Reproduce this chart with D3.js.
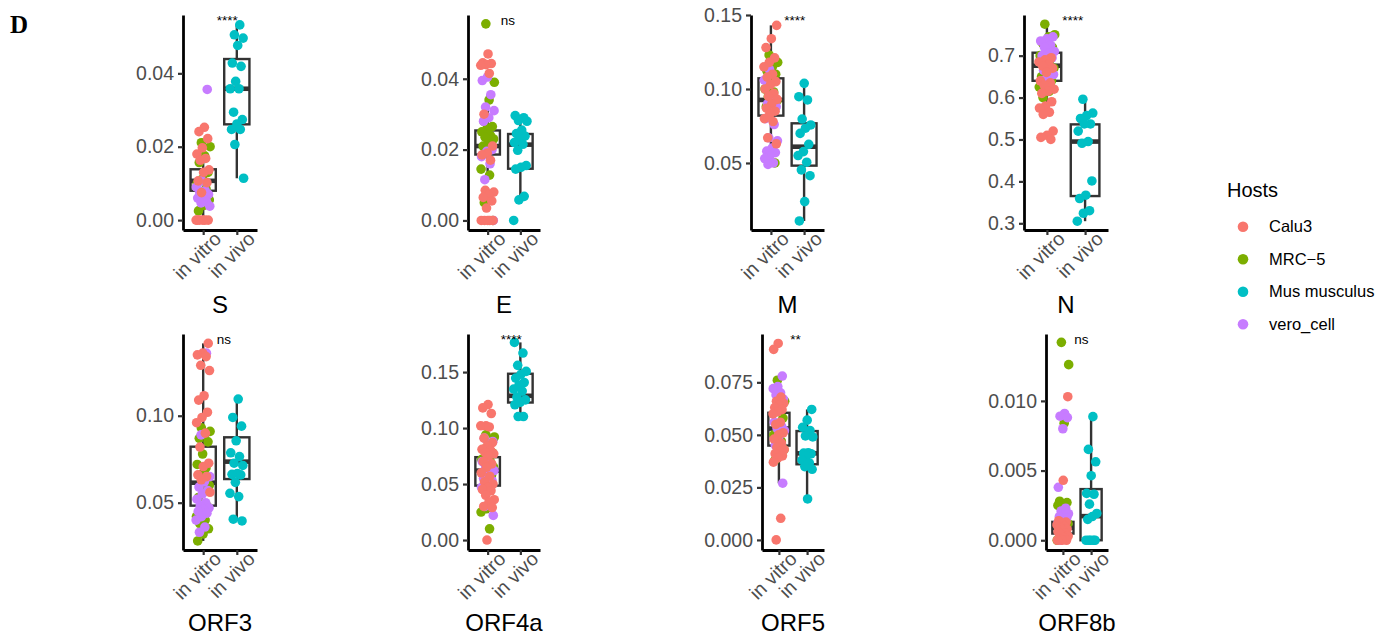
<!DOCTYPE html>
<html>
<head>
<meta charset="utf-8">
<script src="https://cdn.jsdelivr.net/npm/d3@7"></script>
<style>
  body { margin: 0; background: #fff; }
  text { font-family: "Liberation Sans", Arial, sans-serif; }
</style>
</head>
<body>
<div class="chart"></div>
<script>
// categories
var hosts = ["Calu3", "MRC-5", "Mus musculus", "vero_cell"];
var hostColors = ["#F8766D", "#7CAE00", "#00BFC4", "#C77CFF"];
var genes = ["S", "E", "M", "N", "ORF3", "ORF4a", "ORF5", "ORF8b"];
var groups = ["in vitro", "in vivo"];
var signif = ["****", "ns", "****", "****", "ns", "****", "**", "ns"];

// y axis limits and tick labels per gene
var yDomains = [[-0.0027, 0.0559], [-0.0027, 0.058], [0.0047, 0.150], [0.284, 0.797],
                [0.0228, 0.147], [-0.0089, 0.184], [-0.0048, 0.098], [-0.0007, 0.0148]];
var yTicks = [[0, 0.02, 0.04], [0, 0.02, 0.04], [0.05, 0.10, 0.15], [0.3, 0.4, 0.5, 0.6, 0.7],
              [0.05, 0.10], [0, 0.05, 0.10, 0.15], [0, 0.025, 0.05, 0.075], [0, 0.005, 0.010]];
var tickFormats = [".2f", ".2f", ".2f", ".1f", ".2f", ".2f", ".3f", ".3f"];

// in vitro values, one list per gene
var calu3 = [
  [0.0253, 0.0241, 0.0222, 0.0197, 0.018, 0.0168, 0.0163, 0.0137, 0.013, 0.0107, 0.0102, 0.0075, 0, 0, 0, 0, 0, 0],
  [0.047, 0.0445, 0.0443, 0.044, 0.0438, 0.0415, 0.030, 0.021, 0.019, 0.0185, 0.017, 0.0085, 0.008, 0.007, 0.0065, 0.0055, 0.0035, 0, 0, 0, 0, 0],
  [0.143, 0.134, 0.128, 0.121, 0.118, 0.115, 0.110, 0.108, 0.105, 0.103, 0.100, 0.097, 0.095, 0.093, 0.090, 0.087, 0.085, 0.083, 0.080, 0.078, 0.067, 0.063],
  [0.695, 0.69, 0.685, 0.68, 0.675, 0.67, 0.66, 0.64, 0.635, 0.63, 0.62, 0.615, 0.61, 0.59, 0.58, 0.575, 0.565, 0.56, 0.52, 0.51, 0.505, 0.50],
  [0.1416, 0.136, 0.135, 0.134, 0.129, 0.126, 0.1115, 0.109, 0.102, 0.099, 0.096, 0.090, 0.082, 0.0727, 0.0708, 0.066, 0.065, 0.0632, 0.056],
  [0.121, 0.118, 0.113, 0.102, 0.102, 0.101, 0.091, 0.087, 0.084, 0.081, 0.080, 0.078, 0.077, 0.075, 0.070, 0.068, 0.065, 0.060, 0.057, 0.052, 0.050, 0.047, 0.045, 0.044, 0.040, 0.036, 0.034, 0.030, 0.029, 0.000],
  [0.0935, 0.0907, 0.068, 0.066, 0.065, 0.064, 0.063, 0.062, 0.061, 0.060, 0.056, 0.055, 0.051, 0.050, 0.048, 0.046, 0.044, 0.043, 0.042, 0.041, 0.040, 0.039, 0.037, 0.0103, 0.000],
  [0.0103, 0.0043, 0.0014, 0.0013, 0.0012, 0.0011, 0.0010, 0.0009, 0.0008, 0.0007, 0.0006, 0.0005, 0.0004, 0.0003, 0.0002, 0.0001, 0, 0, 0]
];
var mrc5 = [
  [0.0211, 0.020, 0.0175, 0.0157, 0.013, 0.0112, 0.010, 0.0086, 0.007, 0.0055, 0.004, 0.0025],
  [0.0555, 0.039, 0.034, 0.028, 0.0265, 0.026, 0.025, 0.024, 0.0235, 0.023, 0.022, 0.021, 0.0205, 0.020, 0.0145, 0.0128, 0.005, 0],
  [0.123, 0.118, 0.115, 0.112, 0.110, 0.105, 0.100, 0.098, 0.095, 0.092, 0.090, 0.088, 0.050],
  [0.775, 0.75, 0.745, 0.73, 0.72, 0.71, 0.70, 0.69, 0.68, 0.67, 0.66, 0.65, 0.64, 0.63, 0.625, 0.615, 0.60],
  [0.093, 0.091, 0.089, 0.087, 0.085, 0.078, 0.072, 0.070, 0.066, 0.060, 0.058, 0.053, 0.048, 0.045, 0.042, 0.040, 0.038, 0.035, 0.032, 0.028],
  [0.094, 0.092, 0.086, 0.081, 0.078, 0.075, 0.072, 0.070, 0.068, 0.065, 0.062, 0.060, 0.058, 0.028, 0.025, 0.010],
  [0.076, 0.066, 0.062, 0.061, 0.058, 0.055, 0.050, 0.047, 0.045, 0.043, 0.040, 0.038],
  [0.0142, 0.0126, 0.0084, 0.0028, 0.0027, 0.0026, 0.0025, 0.0022, 0.0015, 0.0012, 0.001, 0.0008, 0.0005, 0.0002, 0]
];
var vero = [
  [0.0356, 0.0107, 0.009, 0.008, 0.0075, 0.007, 0.006, 0.006, 0.005, 0.0047, 0.0038],
  [0.0405, 0.0395, 0.0355, 0.032, 0.031, 0.029, 0.028, 0.020, 0.0195, 0.018, 0.016, 0.0115, 0],
  [0.113, 0.106, 0.096, 0.090, 0.088, 0.085, 0.080, 0.076, 0.067, 0.065, 0.060, 0.058, 0.057, 0.055, 0.053, 0.050, 0.049],
  [0.745, 0.74, 0.735, 0.725, 0.72, 0.71, 0.705, 0.70, 0.695, 0.69, 0.685, 0.67, 0.665, 0.655, 0.65, 0.64],
  [0.136, 0.089, 0.065, 0.062, 0.059, 0.057, 0.055, 0.052, 0.050, 0.048, 0.047, 0.046, 0.045, 0.044, 0.042, 0.040, 0.036, 0.033],
  [0.091, 0.088, 0.072, 0.070, 0.066, 0.064, 0.062, 0.058, 0.055, 0.053, 0.050, 0.047, 0.045, 0.030, 0.022],
  [0.078, 0.073, 0.072, 0.070, 0.069, 0.067, 0.065, 0.056, 0.054, 0.053, 0.052, 0.050, 0.045, 0.027],
  [0.0091, 0.0089, 0.0088, 0.0080, 0.0038, 0.0023, 0.0021, 0.0019, 0.0018, 0.0017, 0.0016, 0.0014, 0.0012, 0.0002, 0]
];
// in vivo values (Mus musculus)
var musMusculus = [
  [0.0532, 0.0505, 0.0496, 0.0476, 0.0428, 0.0419, 0.0378, 0.0358, 0.0358, 0.0294, 0.0274, 0.0262, 0.0247, 0.0247, 0.0206, 0.0114],
  [0.0296, 0.029, 0.0282, 0.028, 0.0255, 0.0245, 0.0238, 0.023, 0.022, 0.0215, 0.0198, 0.0155, 0.015, 0.0145, 0.0068, 0.0058, 0],
  [0.1038, 0.0948, 0.0926, 0.0797, 0.0757, 0.0735, 0.070, 0.0626, 0.0577, 0.055, 0.0505, 0.0453, 0.0414, 0.0239, 0.0108],
  [0.596, 0.563, 0.557, 0.55, 0.537, 0.537, 0.52, 0.495, 0.491, 0.401, 0.367, 0.359, 0.33, 0.324, 0.305],
  [0.1096, 0.099, 0.094, 0.0856, 0.0787, 0.0765, 0.0727, 0.0714, 0.0668, 0.0663, 0.066, 0.0617, 0.0554, 0.0535, 0.0405, 0.0395],
  [0.1765, 0.167, 0.156, 0.1506, 0.148, 0.1446, 0.1407, 0.138, 0.1348, 0.133, 0.1276, 0.1252, 0.123, 0.1208, 0.1103, 0.1103],
  [0.0621, 0.057, 0.0536, 0.0521, 0.0495, 0.049, 0.0415, 0.0413, 0.041, 0.040, 0.038, 0.0366, 0.0349, 0.0336, 0.0195],
  [0.00887, 0.00652, 0.00563, 0.00463, 0.00336, 0.0033, 0.00259, 0.00192, 0.0017, 0.0015, 0, 0, 0, 0, 0]
];

// box summaries [lower whisker, q1, median, q3, upper whisker]
var boxInVitro = [
  [0, 0.0080, 0.0107, 0.01385, 0.0222],
  [0.0115, 0.0186, 0.021, 0.0254, 0.0355],
  [0.049, 0.082, 0.0926, 0.1072, 0.143],
  [0.558, 0.640, 0.676, 0.707, 0.775],
  [0.028, 0.0483, 0.0615, 0.0822, 0.1416],
  [0.024, 0.0486, 0.062, 0.074, 0.102],
  [0.027, 0.0449, 0.053, 0.0605, 0.076],
  [0, 0.00048, 0.0009, 0.00132, 0.0025]
];
var boxInVivo = [
  [0.0114, 0.0261, 0.0358, 0.0439, 0.0532],
  [0.0058, 0.0146, 0.0214, 0.0244, 0.0296],
  [0.0108, 0.0482, 0.061, 0.0768, 0.1038],
  [0.305, 0.365, 0.495, 0.536, 0.596],
  [0.0395, 0.0636, 0.0736, 0.0876, 0.1096],
  [0.1103, 0.1228, 0.1288, 0.1485, 0.1765],
  [0.0195, 0.036, 0.0412, 0.0518, 0.0621],
  [0, 0, 0.00173, 0.00367, 0.00887]
];

var svgWidth = 1389;
var svgHeight = 636;

var svg = d3.select(".chart")
  .append("svg")
  .attr("width", svgWidth)
  .attr("height", svgHeight);

// panel rectangles (the y axis label widths differ, so each panel is placed on its own)
var panelRects = [
  { left: 183, right: 257, top: 15, bottom: 230 },
  { left: 468, right: 540, top: 15, bottom: 230 },
  { left: 751, right: 824, top: 15, bottom: 230 },
  { left: 1024, right: 1108, top: 15, bottom: 230 },
  { left: 183, right: 257, top: 334, bottom: 550 },
  { left: 468, right: 540, top: 334, bottom: 550 },
  { left: 762, right: 824, top: 334, bottom: 550 },
  { left: 1046, right: 1108, top: 334, bottom: 550 }
];

var colorScale = d3.scaleOrdinal().domain(hosts).range(hostColors);

// panel letter
svg.append("text")
  .attr("x", 10)
  .attr("y", 33)
  .style("font-family", "'Liberation Serif', 'Times New Roman', serif")
  .style("font-weight", "bold")
  .style("font-size", "25px")
  .text("D");

genes.forEach(function(gene, i) {
  var p = panelRects[i];
  var chart = svg.append("g").attr("class", "panel");

  var xScale = d3.scalePoint().domain(groups).range([p.left, p.right]).padding(0.6);
  var step = xScale.step();
  var yScale = d3.scaleLinear().domain(yDomains[i]).range([p.bottom, p.top]);

  // boxes first, points are drawn over them
  var boxes = [boxInVitro[i], boxInVivo[i]];
  groups.forEach(function(grp, j) {
    var b = boxes[j];
    var cx = xScale(grp);
    var w = 0.75 * step;
    var bg = chart.append("g").attr("stroke", "#333333").attr("stroke-width", 2.4);
    bg.append("line").attr("x1", cx).attr("x2", cx).attr("y1", yScale(b[3])).attr("y2", yScale(b[4]));
    bg.append("line").attr("x1", cx).attr("x2", cx).attr("y1", yScale(b[1])).attr("y2", yScale(b[0]));
    bg.append("rect")
      .attr("x", cx - w / 2)
      .attr("y", yScale(b[3]))
      .attr("width", w)
      .attr("height", Math.max(0, yScale(b[1]) - yScale(b[3])))
      .attr("fill", "white");
    bg.append("line")
      .attr("x1", cx - w / 2).attr("x2", cx + w / 2)
      .attr("y1", yScale(b[2])).attr("y2", yScale(b[2]))
      .attr("stroke-width", 4.6);
  });

  // points: in vitro (MRC-5, vero_cell, Calu3 on top), then in vivo
  var vitroPts = [];
  mrc5[i].forEach(function(v) { vitroPts.push({ host: "MRC-5", value: v, group: "in vitro" }); });
  vero[i].forEach(function(v) { vitroPts.push({ host: "vero_cell", value: v, group: "in vitro" }); });
  calu3[i].forEach(function(v) { vitroPts.push({ host: "Calu3", value: v, group: "in vitro" }); });
  var vivoPts = musMusculus[i].map(function(v) { return { host: "Mus musculus", value: v, group: "in vivo" }; });

  // deterministic jitter spread (golden ratio sequence), +/- 0.21 of a category step
  function jitter(k) {
    return ((k * 0.6180339887 + 0.37) % 1 - 0.5) * 0.42 * step;
  }

  chart.append("g")
    .selectAll("circle")
    .data(vitroPts.concat(vivoPts))
    .enter()
    .append("circle")
    .attr("cx", function(d, k) {
      return xScale(d.group) + jitter(k);
    })
    .attr("cy", function(d) { return yScale(d.value); })
    .attr("r", 4.8)
    .attr("fill", function(d) { return colorScale(d.host); });

  // y axis
  var leftAxis = d3.axisLeft(yScale)
    .tickValues(yTicks[i])
    .tickFormat(d3.format(tickFormats[i]))
    .tickSize(5)
    .tickSizeOuter(0)
    .tickPadding(4);
  var ya = chart.append("g")
    .attr("class", "y-axis")
    .attr("transform", "translate(" + p.left + ",0)")
    .call(leftAxis);

  // x axis
  var bottomAxis = d3.axisBottom(xScale).tickSize(5).tickSizeOuter(0);
  var xa = chart.append("g")
    .attr("class", "x-axis")
    .attr("transform", "translate(0," + p.bottom + ")")
    .call(bottomAxis);

  [ya, xa].forEach(function(ax) {
    ax.select(".domain").attr("stroke", "black").attr("stroke-width", 2.8);
    ax.selectAll(".tick line").attr("stroke", "#333333").attr("stroke-width", 2.2);
    ax.selectAll(".tick text")
      .attr("fill", "#4D4D4D")
      .style("font-size", "19.5px")
      .style("font-family", "'Liberation Sans', Arial, sans-serif");
  });

  xa.selectAll(".tick text")
    .attr("x", 0)
    .attr("y", 0)
    .attr("dx", 11)
    .attr("dy", 15.5)
    .attr("transform", "translate(0,7) rotate(-45)")
    .style("text-anchor", "end");

  // significance label
  chart.append("text")
    .attr("x", xScale("in vitro") + 0.4 * step)
    .attr("y", p.top + 10)
    .style("font-size", "13.5px")
    .attr("fill", "black")
    .text(signif[i]);

  // gene label under the panel
  chart.append("text")
    .attr("x", (p.left + p.right) / 2)
    .attr("y", i < 4 ? 313 : 631)
    .attr("text-anchor", "middle")
    .style("font-size", "24px")
    .attr("fill", "black")
    .text(gene);
});

// legend
var legend = svg.append("g").attr("class", "legend");
legend.append("text")
  .attr("x", 1227)
  .attr("y", 197)
  .style("font-size", "20px")
  .text("Hosts");

legend.selectAll("circle")
  .data(hosts)
  .enter()
  .append("circle")
  .attr("cx", 1243)
  .attr("cy", function(d, i) { return 226.7 + i * 32.5; })
  .attr("r", 5.3)
  .attr("fill", function(d) { return colorScale(d); });

legend.selectAll(".legend-label")
  .data(hosts)
  .enter()
  .append("text")
  .attr("class", "legend-label")
  .attr("x", 1269)
  .attr("y", function(d, i) { return 226.7 + i * 32.5; })
  .attr("dy", "0.35em")
  .style("font-size", "16.5px")
  .text(function(d) { return d === "MRC-5" ? "MRC\u22125" : d; });
</script>
</body>
</html>
